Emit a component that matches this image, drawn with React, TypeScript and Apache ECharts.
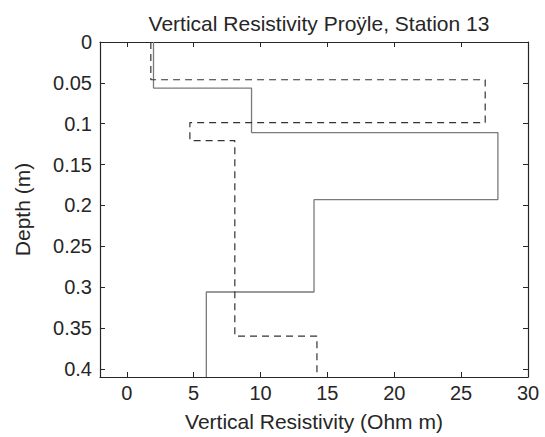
import React, { useEffect, useRef } from "react";
import * as echarts from "echarts";

// Layer boundaries (depth, m) and resistivities (Ohm m) for the two profiles
const solidBounds = [0, 0.0564, 0.1108, 0.193, 0.306, 0.41];
const solidValues = [2.0, 9.33, 27.75, 14.0, 5.95];
const dashedBounds = [0, 0.0462, 0.0986, 0.1206, 0.36, 0.41];
const dashedValues = [1.8, 26.8, 4.72, 8.08, 14.22];

const xTicks = [0, 5, 10, 15, 20, 25, 30];
const yTicks = [0, 0.05, 0.1, 0.15, 0.2, 0.25, 0.3, 0.35, 0.4];

const titleText = "Vertical Resistivity Proÿle, Station 13";
const xName = "Vertical Resistivity (Ohm m)";
const yName = "Depth (m)";

function stepPoints(bounds: number[], values: number[]) {
  const pts: number[][] = [];
  values.forEach((v, i) => {
    pts.push([v, bounds[i]]);
    pts.push([v, bounds[i + 1]]);
  });
  return pts;
}

const FONT = "'Liberation Sans', Arial, Helvetica, sans-serif";
const TXT = "#262626";

export default function App() {
  const ref = useRef<HTMLDivElement>(null);
  useEffect(() => {
    if (!ref.current) return;
    const chart = echarts.init(ref.current, undefined, { renderer: "svg" });
    const axisCommon = {
      type: "value" as const,
      axisLine: { show: true, onZero: false, lineStyle: { color: TXT, width: 1.2 } },
      splitLine: { show: false },
    };
    chart.setOption({
      animation: false,
      backgroundColor: "#fff",
      title: {
        text: titleText,
        left: 314,
        textAlign: "center",
        top: 8,
        textStyle: { fontFamily: FONT, fontSize: 21, fontWeight: "normal", color: TXT },
      },
      grid: { left: 100, right: 17, top: 42, bottom: 58, containLabel: false },
      xAxis: [
        {
          ...axisCommon,
          position: "bottom",
          min: -2,
          max: 30,
          name: xName,
          nameLocation: "middle",
          nameGap: 34,
          nameTextStyle: { fontFamily: FONT, fontSize: 21, color: TXT },
          axisTick: { show: true, inside: true, length: 5, customValues: xTicks, lineStyle: { color: TXT } },
          axisLabel: {
            show: true,
            customValues: xTicks,
            margin: 6,
            fontFamily: FONT,
            fontSize: 20,
            color: TXT,
          },
        },
        {
          ...axisCommon,
          position: "top",
          min: -2,
          max: 30,
          axisTick: { show: true, inside: true, length: 5, customValues: xTicks, lineStyle: { color: TXT } },
          axisLabel: { show: false },
        },
      ],
      yAxis: [
        {
          ...axisCommon,
          position: "left",
          inverse: true,
          min: 0,
          max: 0.41,
          name: yName,
          nameLocation: "middle",
          nameGap: 67,
          nameTextStyle: { fontFamily: FONT, fontSize: 21, color: TXT },
          axisTick: { show: true, inside: true, length: 5, customValues: yTicks, lineStyle: { color: TXT } },
          axisLabel: {
            show: true,
            customValues: yTicks,
            margin: 8,
            fontFamily: FONT,
            fontSize: 20,
            color: TXT,
            formatter: (v: number) => String(+Number(v).toFixed(2)),
          },
        },
        {
          ...axisCommon,
          position: "right",
          inverse: true,
          min: 0,
          max: 0.41,
          axisTick: { show: true, inside: true, length: 5, customValues: yTicks, lineStyle: { color: TXT } },
          axisLabel: { show: false },
        },
      ],
      series: [
        {
          type: "line",
          xAxisIndex: 0,
          yAxisIndex: 0,
          data: stepPoints(solidBounds, solidValues),
          showSymbol: false,
          symbol: "none",
          lineStyle: { color: "#7a7a7a", width: 1.3, type: "solid" },
          z: 2,
        },
        {
          type: "line",
          xAxisIndex: 0,
          yAxisIndex: 0,
          data: stepPoints(dashedBounds, dashedValues),
          showSymbol: false,
          symbol: "none",
          lineStyle: { color: "#333333", width: 1.2, type: [7, 5] },
          z: 3,
        },
      ],
    });
    return () => chart.dispose();
  }, []);
  return <div ref={ref} style={{ width: 545, height: 437, position: "absolute", left: 0, top: 0 }} />;
}
